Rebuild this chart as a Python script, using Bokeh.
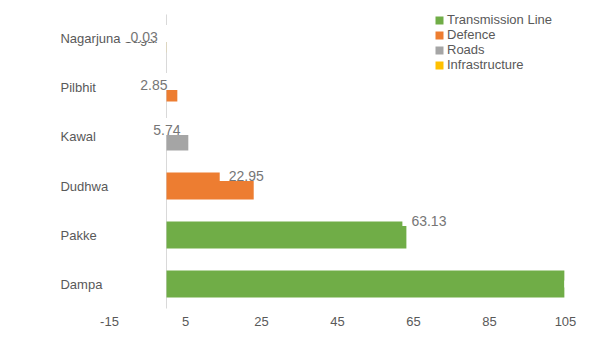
from bokeh.plotting import figure
from bokeh.models import FactorRange, Range1d, FixedTicker, ColumnDataSource, Legend, LegendItem
from bokeh.transform import factor_cmap
from bokeh.core.properties import value
from bokeh.embed import file_html
from bokeh.resources import INLINE

# ---- data ----
categories = ["Dampa", "Pakke", "Dudhwa", "Kawal", "Pilbhit", "Nagarjuna Sagar"]
values = [104.7, 63.13, 22.95, 5.74, 2.85, 0.03]
types = ["Transmission Line", "Transmission Line", "Defence", "Roads", "Defence", "Infrastructure"]
value_labels = ["", "63.13", "22.95", "5.74", "2.85", "0.03"]
type_names = ["Transmission Line", "Defence", "Roads", "Infrastructure"]
type_colors = ["#70AD47", "#ED7D31", "#A5A5A5", "#FFC000"]
x_ticks = [-15, 5, 25, 45, 65, 85, 105]

# label placement (screen px offsets, style only)
lab_dx = [0, -4, -34, -44, -46, -45]
lab_dy = [0, -17.5, -13.5, -10.5, -6.5, -5.5]

FONT = "Liberation Sans"
TXT = "#595959"

src = ColumnDataSource(dict(cat=categories, val=values, typ=types, lab=value_labels,
                            dx=lab_dx, dy=lab_dy,
                            lx=[-27.9] * len(categories)))

p = figure(width=600, height=348, output_backend="svg", toolbar_location=None,
           y_range=FactorRange(factors=categories, range_padding=0.163,
                               range_padding_units="absolute"),
           x_range=Range1d(-166 / 3.8, 434 / 3.8),
           y_axis_location=None, min_border_left=0, min_border_right=0,
           min_border_top=6, min_border_bottom=32)
p.outline_line_color = None
p.xgrid.visible = False
p.ygrid.visible = False

# value axis line at zero, spanning the category band
p.segment(x0=[0], x1=[0], y0=[(categories[0], -0.5)], y1=[(categories[-1], 0.5)],
          line_color="#D9D9D9", line_width=1)

r = p.hbar(y="cat", right="val", left=0, height=0.55, source=src,
           fill_color=factor_cmap("typ", palette=type_colors, factors=type_names),
           line_color=None)

# category labels
p.text(x="lx", y="cat", text="cat", source=src, text_align="left", text_baseline="middle",
       text_font=value(FONT), text_font_size="13px", text_color=TXT)

# value labels
p.text(x="val", y="cat", text="lab", source=src, x_offset="dx", y_offset="dy",
       text_align="left", text_baseline="middle",
       text_font=value(FONT), text_font_size="14px", text_color="#767676",
       background_fill_color="white",
       padding=dict(left=9, right=12, top=7, bottom=0))

xa = p.xaxis[0]
xa.ticker = FixedTicker(ticks=x_ticks)
xa.major_label_overrides = {t: str(t) for t in x_ticks}
xa.axis_line_color = None
xa.major_tick_line_color = None
xa.minor_tick_line_color = None
xa.major_tick_out = 0
xa.major_tick_in = 0
xa.major_label_text_font = FONT
xa.major_label_text_font_size = "13px"
xa.major_label_text_color = TXT
xa.major_label_standoff = 0

items = []
for t in type_names:
    idx = types.index(t)
    items.append(LegendItem(label=t, renderers=[r], index=idx))
leg = Legend(items=items, location=(434, 244), orientation="vertical",
             glyph_width=10, glyph_height=10, label_height=15, spacing=0,
             label_standoff=3, padding=0, margin=0,
             label_text_font=FONT, label_text_font_size="13px", label_text_color=TXT,
             border_line_color=None, background_fill_alpha=0)
p.add_layout(leg)

open("out.html", "w").write(file_html(p, INLINE))
